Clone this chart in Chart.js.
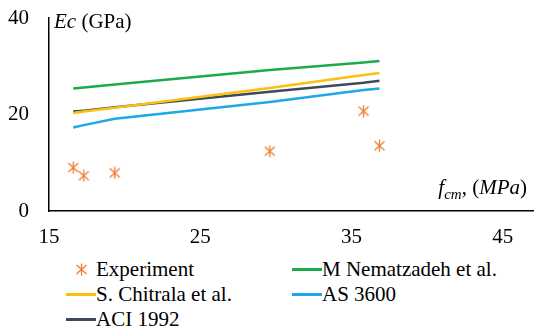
<!DOCTYPE html>
<html>
<head>
<meta charset="UTF-8">
<title>Ec vs fcm</title>
<script src="https://cdn.jsdelivr.net/npm/chart.js"></script>
<style>
    body {
        margin: 0;
        background: #fff;
        font-family: 'Liberation Serif', 'Times New Roman', serif;
    }

    .wrap {
        position: relative;
        width: 550px;
        height: 334px;
    }

    .grafica {
        position: absolute;
        left: 0;
        top: 0;
        width: 550px;
        height: 250px;
    }

    .leyenda {
        position: absolute;
        top: 257px;
        left: 0;
        width: 550px;
        font-size: 21px;
        color: #000;
    }

    .item {
        position: absolute;
        display: flex;
        align-items: center;
        height: 25px;
        white-space: nowrap;
    }

    .marca {
        width: 30px;
        height: 25px;
        display: flex;
        align-items: center;
        justify-content: center;
    }

    .linea {
        width: 30px;
        height: 2.5px;
    }
</style>
</head>

<body>
<div class="wrap">
    <div class="grafica"><canvas id="miGrafica"></canvas></div>
    <div class="leyenda" id="leyenda"></div>
</div>

<script>
    // valores
    const fcm = [16.6, 17.3, 19.35, 29.6, 35.8, 36.85];
    const experiment = [9.0, 7.3, 7.9, 12.4, 20.7, 13.5];
    const nematzadeh = [25.4, 25.6, 26.2, 29.2, 30.8, 31.1];
    const chitrala = [20.3, 20.6, 21.4, 25.5, 28.2, 28.6];
    const aci1992 = [20.6, 20.8, 21.5, 24.7, 26.6, 27.0];
    const as3600 = [17.3, 17.8, 19.1, 22.6, 25.1, 25.4];

    const xTicks = [15, 25, 35, 45];
    const yTicks = [0, 20, 40];

    const fuente = "'Liberation Serif', 'Times New Roman', serif";

    // marcador tipo asterisco (X + linea vertical) como en Excel
    function marcaAsterisco(color) {
        const c = document.createElement('canvas');
        c.width = 13;
        c.height = 13;
        const g = c.getContext('2d');
        g.strokeStyle = color;
        g.lineWidth = 1.3;
        g.beginPath();
        g.moveTo(1.5, 2); g.lineTo(11.5, 11);
        g.moveTo(11.5, 2); g.lineTo(1.5, 11);
        g.moveTo(6.5, 0.5); g.lineTo(6.5, 12.5);
        g.stroke();
        return c;
    }

    const naranja = '#ED7D31';
    const series = [
        { label: 'Experiment', data: experiment, color: naranja, puntos: true },
        { label: 'M Nematzadeh et al.', data: nematzadeh, color: '#1DAA4D' },
        { label: 'S. Chitrala et al.', data: chitrala, color: '#FDBF10' },
        { label: 'AS 3600', data: as3600, color: '#1EA8E6' },
        { label: 'ACI 1992', data: aci1992, color: '#3D4A5C' }
    ];

    const datasets = series.map(s => ({
        label: s.label,
        data: fcm.map((x, i) => ({ x: x, y: s.data[i] })),
        showLine: !s.puntos,
        borderColor: s.color,
        backgroundColor: s.color,
        borderWidth: 2.5,
        pointRadius: s.puntos ? 6 : 0,
        pointStyle: s.puntos ? marcaAsterisco(s.color) : 'circle',
        order: s.puntos ? 0 : 1
    }));

    // titulos de los ejes dentro del area de la grafica
    const titulosEjes = {
        id: 'titulosEjes',
        afterDatasetsDraw(chart) {
            const ctx = chart.ctx;
            const area = chart.chartArea;
            ctx.save();
            ctx.fillStyle = '#000';
            ctx.textBaseline = 'alphabetic';

            let x = area.left + 5;
            let y = area.top + 10;
            ctx.font = 'italic 21px ' + fuente;
            ctx.fillText('Ec', x, y);
            x += ctx.measureText('Ec ').width;
            ctx.font = '21px ' + fuente;
            ctx.fillText('(GPa)', x, y);

            const partes = [
                ['f', 'italic 21px ', 0],
                ['cm', 'italic 15px ', 5],
                [', (', '21px ', 0],
                ['MPa', 'italic 21px ', 0],
                [')', '21px ', 0]
            ];
            let total = 0;
            partes.forEach(p => {
                ctx.font = p[1] + fuente;
                total += ctx.measureText(p[0]).width;
            });
            x = area.right - 6 - total;
            y = area.bottom - 17;
            partes.forEach(p => {
                ctx.font = p[1] + fuente;
                ctx.fillText(p[0], x, y + p[2]);
                x += ctx.measureText(p[0]).width;
            });
            ctx.restore();
        }
    };

    const ctx = document.getElementById('miGrafica').getContext('2d');
    const chart = new Chart(ctx, {
        type: 'scatter',
        data: { datasets: datasets },
        options: {
            responsive: true,
            maintainAspectRatio: false,
            animation: false,
            layout: {
                padding: { top: 18, right: 17, left: 0, bottom: 0 }
            },
            plugins: {
                legend: { display: false },
                tooltip: { enabled: false }
            },
            scales: {
                x: {
                    type: 'linear',
                    min: 15,
                    max: 47,
                    grid: { display: false, drawTicks: false },
                    border: { display: true, color: '#000', width: 1.5 },
                    ticks: {
                        color: '#000',
                        padding: 14,
                        font: { family: fuente, size: 21 }
                    },
                    afterBuildTicks: scale => {
                        scale.ticks = xTicks.map(v => ({ value: v }));
                    },
                    afterFit: scale => {
                        scale.height = 39;
                        scale.paddingLeft = 0;
                        scale.paddingRight = 0;
                    }
                },
                y: {
                    min: 0,
                    max: 40,
                    grid: { display: false, drawTicks: false },
                    border: { display: true, color: '#000', width: 1.5 },
                    ticks: {
                        color: '#000',
                        padding: 20,
                        font: { family: fuente, size: 21 }
                    },
                    afterBuildTicks: scale => {
                        scale.ticks = yTicks.map(v => ({ value: v }));
                    },
                    afterFit: scale => {
                        // el padding de las etiquetas no debe bajar el area de la grafica
                        scale.width = 49;
                        scale.paddingTop = 0;
                        scale.paddingBottom = 0;
                    }
                }
            }
        },
        plugins: [titulosEjes]
    });

    // leyenda en dos columnas como en la figura original
    const leyenda = document.getElementById('leyenda');
    const columnas = [66, 292];
    series.forEach((s, i) => {
        const item = document.createElement('div');
        item.className = 'item';
        item.style.left = columnas[i % 2] + 'px';
        item.style.top = (Math.floor(i / 2) * 25) + 'px';
        const marca = document.createElement('div');
        marca.className = 'marca';
        if (s.puntos) {
            marca.appendChild(marcaAsterisco(s.color));
        } else {
            const linea = document.createElement('div');
            linea.className = 'linea';
            linea.style.background = s.color;
            marca.appendChild(linea);
        }
        const texto = document.createElement('span');
        texto.textContent = s.label;
        item.appendChild(marca);
        item.appendChild(texto);
        leyenda.appendChild(item);
    });
</script>
</body>
</html>
